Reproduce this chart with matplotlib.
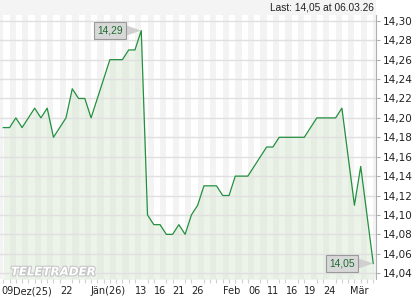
import numpy as np
import matplotlib
matplotlib.use("Agg")
import matplotlib.pyplot as plt
import matplotlib.patheffects as pe
from matplotlib.patches import Rectangle

# closing prices, one per trading day (09.12.25 - 06.03.26)
prices = [14.19, 14.19, 14.20, 14.19, 14.20, 14.21, 14.20, 14.21, 14.18, 14.19,
          14.20, 14.23, 14.22, 14.22, 14.20, 14.22, 14.24, 14.26, 14.26, 14.26,
          14.27, 14.27, 14.29, 14.10, 14.09, 14.09, 14.08, 14.08, 14.09, 14.08,
          14.10, 14.11, 14.13, 14.13, 14.13, 14.12, 14.12, 14.14, 14.14, 14.14,
          14.15, 14.16, 14.17, 14.17, 14.18, 14.18, 14.18, 14.18, 14.18, 14.19,
          14.20, 14.20, 14.20, 14.20, 14.21, 14.16, 14.11, 14.15, 14.10, 14.05]

xtick_pos = [0.7, 4.6, 10, 16.75, 22, 25, 28, 31, 36.5, 40, 43, 46, 49, 52, 56.7]
xtick_labels = ['09', 'Dez(25)', '22', 'Jän(26)', '13', '16', '21', '26',
                'Feb', '06', '11', '16', '19', '24', 'Mär']
ytick_vals = np.arange(14.04, 14.301, 0.02)
last_text = 'Last: 14,05 at 06.03.26'

x = np.arange(len(prices))
y = np.array(prices)
ymin, ymax = 14.0337, 14.306

fig = plt.figure(figsize=(4.2, 3.0), dpi=100)
ax = fig.add_axes([0.0, 0.069, 0.8945, 0.881])

# top info band
fig.patches.append(Rectangle((0, 0.951), 0.8945, 0.049, transform=fig.transFigure,
                             facecolor='#f4f4f4', edgecolor='none', zorder=0))
fig.text(0.890, 0.975, last_text, ha='right', va='center', fontsize=7.3,
         family='Liberation Sans', color='#222222')

# alternating day stripes
ax.axvspan(-0.6, 0, color='#f3f3f3', lw=0, zorder=0)
for k in range(1, len(prices), 2):
    ax.axvspan(k, k + 1, color='#f3f3f3', lw=0, zorder=0)

for v in ytick_vals:
    ax.axhline(v, color='#e0e0e0', lw=1, zorder=2)

ax.fill_between(x, y, ymin, color='#d5e6d0', alpha=0.45, lw=0, zorder=1)
ax.plot(x, y, color='#23903f', lw=0.9, zorder=3)

ax.set_xlim(-0.526, 59.39)
ax.set_ylim(ymin, ymax)

# value boxes at high and last
box = dict(boxstyle='square,pad=0.3', fc='#d8d8d8', ec='#9a9a9a', lw=0.8)
arrow = dict(arrowstyle='wedge,tail_width=1.0,shrink_factor=0.5', fc='#d0d0d0',
             ec='none', shrinkA=0, shrinkB=0)
for i in [int(np.argmax(y)), len(y) - 1]:
    ax.annotate(f'{y[i]:.2f}'.replace('.', ','), xy=(x[i], y[i]), xytext=(-22.7, 0),
                textcoords='offset points', ha='center', va='center', fontsize=7.4,
                family='Liberation Sans', color='#1b6e30', bbox=box,
                arrowprops=arrow, zorder=5)

ax.text(1.2, ymin + 0.004, 'TELETRADER', fontsize=8.5, fontweight='bold',
        style='italic', color='white', zorder=4,
        path_effects=[pe.withStroke(linewidth=1.5, foreground='#c4c4c4')])

for s in ['top', 'left', 'bottom']:
    ax.spines[s].set_visible(False)
ax.spines['right'].set_color('#b0b0b0')
ax.yaxis.tick_right()
ax.set_yticks(ytick_vals)
ax.set_yticklabels([f'{v:.2f}'.replace('.', ',') for v in ytick_vals])
ax.tick_params(axis='y', length=3, width=0.8, color='#b0b0b0', pad=2,
               labelsize=7.5, labelcolor='#222222')

ax.set_xticks(xtick_pos)
ax.set_xticklabels(xtick_labels)
ax.set_xticks(x, minor=True)
ax.tick_params(axis='x', which='major', length=0, pad=5, labelsize=7,
               labelcolor='#222222')
ax.tick_params(axis='x', which='minor', length=3, width=0.8, color='#d0d0d0')

fig.savefig('out.png', dpi=100)
